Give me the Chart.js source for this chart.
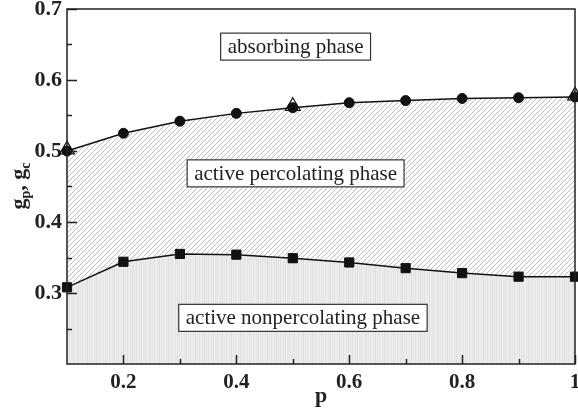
<!DOCTYPE html>
<html>
<head>
<meta charset="utf-8">
<script src="https://cdn.jsdelivr.net/npm/chart.js@4"></script>
<style>
  html, body { margin: 0; padding: 0; background: #fff; }
  canvas { display: block; }
</style>
</head>
<body>
<canvas id="phase" width="578" height="411"></canvas>
<script>
const pValues = [0.1, 0.2, 0.3, 0.4, 0.5, 0.6, 0.7, 0.8, 0.9, 1.0];
const gpValues = [0.500, 0.525, 0.542, 0.553, 0.561, 0.568, 0.571, 0.574, 0.575, 0.576];
const gnValues = [0.308, 0.344, 0.355, 0.354, 0.349, 0.343, 0.335, 0.328, 0.323, 0.323];
const gcP = [0.1, 0.5, 1.0];
const gcValues = [0.502, 0.563, 0.578];

const xTicks = [0.2, 0.4, 0.6, 0.8, 1.0];
const xMinor = [0.3, 0.5, 0.7, 0.9];
const yTicks = [0.3, 0.4, 0.5, 0.6, 0.7];
const yMinor = [0.25, 0.35, 0.45, 0.55, 0.65];

const phaseLabels = ['absorbing phase', 'active percolating phase', 'active nonpercolating phase'];
const labelP = [0.505, 0.505, 0.518];
const labelG = [0.647, 0.4685, 0.265];

const SERIF = '"Liberation Serif", "Times New Roman", serif';

function hatchPattern() {
    const c = document.createElement('canvas');
    c.width = 5; c.height = 5;
    const g = c.getContext('2d');
    g.fillStyle = '#ffffff';
    g.fillRect(0, 0, 5, 5);
    g.strokeStyle = '#bdbdbd';
    g.lineWidth = 1;
    g.beginPath();
    g.moveTo(0, 5); g.lineTo(5, 0);
    g.moveTo(-1, 1); g.lineTo(1, -1);
    g.moveTo(4, 6); g.lineTo(6, 4);
    g.stroke();
    return g.createPattern(c, 'repeat');
}

function stripePattern() {
    const c = document.createElement('canvas');
    c.width = 9; c.height = 4;
    const g = c.getContext('2d');
    g.fillStyle = '#ececec';
    g.fillRect(0, 0, 9, 4);
    const cols = [[1, '#e2e2e2'], [4, '#e5e5e5'], [6, '#dfdfdf'], [8, '#e7e7e7']];
    cols.forEach(([x, col]) => { g.fillStyle = col; g.fillRect(x, 0, 1, 4); });
    return g.createPattern(c, 'repeat');
}

function toPoints(xs, ys) {
    return xs.map((x, i) => ({ x: x, y: ys[i] }));
}

// inward tick marks, frame, phase label boxes and the y title with subscripts
const decorations = {
    id: 'decorations',
    afterDatasetsDraw(chart) {
        const ctx = chart.ctx;
        const xs = chart.scales.x, ys = chart.scales.y;
        ctx.save();
        ctx.font = '21px ' + SERIF;
        ctx.textAlign = 'center';
        ctx.textBaseline = 'middle';
        phaseLabels.forEach((txt, i) => {
            const cx = xs.getPixelForValue(labelP[i]);
            const cy = ys.getPixelForValue(labelG[i]);
            const w = ctx.measureText(txt).width + 14;
            const h = 27;
            ctx.fillStyle = '#ffffff';
            ctx.fillRect(cx - w / 2, cy - h / 2, w, h);
            ctx.strokeStyle = '#333';
            ctx.lineWidth = 1.2;
            ctx.strokeRect(cx - w / 2, cy - h / 2, w, h);
            ctx.fillStyle = '#222';
            ctx.fillText(txt, cx, cy + 1);
        });
        ctx.restore();
    },
    afterDraw(chart) {
        const ctx = chart.ctx;
        const a = chart.chartArea;
        const xs = chart.scales.x, ys = chart.scales.y;
        ctx.save();
        ctx.strokeStyle = '#222';
        ctx.lineWidth = 1.5;
        ctx.beginPath();
        xTicks.forEach(v => {
            const x = Math.round(xs.getPixelForValue(v)) + 0.5;
            ctx.moveTo(x, a.bottom); ctx.lineTo(x, a.bottom - 9);
        });
        xMinor.forEach(v => {
            const x = Math.round(xs.getPixelForValue(v)) + 0.5;
            ctx.moveTo(x, a.bottom); ctx.lineTo(x, a.bottom - 5);
        });
        yTicks.forEach(v => {
            const y = Math.round(ys.getPixelForValue(v)) + 0.5;
            ctx.moveTo(a.left, y); ctx.lineTo(a.left + 10, y);
        });
        yMinor.forEach(v => {
            const y = Math.round(ys.getPixelForValue(v)) + 0.5;
            ctx.moveTo(a.left, y); ctx.lineTo(a.left + 5, y);
        });
        ctx.stroke();
        ctx.strokeRect(a.left, a.top, a.right - a.left, a.bottom - a.top);

        // y axis title: g_p, g_c
        ctx.translate(20, 186);
        ctx.rotate(-Math.PI / 2);
        ctx.fillStyle = '#222';
        ctx.textBaseline = 'alphabetic';
        ctx.textAlign = 'left';
        const big = 'bold 22px ' + SERIF, small = 'bold 14px ' + SERIF;
        const parts = [['g', big, 0], ['p', small, 5], [', ', big, 0], ['g', big, 0], ['c', small, 5]];
        let total = 0;
        parts.forEach(([t, f]) => { ctx.font = f; total += ctx.measureText(t).width; });
        let x = -total / 2;
        parts.forEach(([t, f, dy]) => {
            ctx.font = f;
            ctx.fillText(t, x, 5 + dy);
            x += ctx.measureText(t).width;
        });
        ctx.restore();
    }
};

document.addEventListener('DOMContentLoaded', function() {
    const canvas = document.getElementById('phase');

    new Chart(canvas, {
        type: 'line',
        data: {
            datasets: [
                {
                    data: toPoints(gcP, gcValues),
                    showLine: false,
                    fill: false,
                    pointStyle: 'triangle',
                    pointRadius: 8.5,
                    pointBorderWidth: 1.2,
                    pointBorderColor: '#111',
                    pointBackgroundColor: 'rgba(0,0,0,0)',
                    clip: false,
                },
                {
                    data: toPoints(pValues, gpValues),
                    borderColor: '#111',
                    borderWidth: 1.5,
                    tension: 0,
                    fill: '+1',
                    backgroundColor: hatchPattern(),
                    pointStyle: 'circle',
                    pointRadius: 5,
                    pointBorderWidth: 1,
                    pointBorderColor: '#111',
                    pointBackgroundColor: '#111',
                    clip: false,
                },
                {
                    data: toPoints(pValues, gnValues),
                    borderColor: '#111',
                    borderWidth: 1.5,
                    tension: 0,
                    fill: 'start',
                    backgroundColor: stripePattern(),
                    pointStyle: 'rect',
                    pointRadius: 6.5,
                    pointBorderWidth: 1,
                    pointBorderColor: '#111',
                    pointBackgroundColor: '#111',
                    clip: false,
                },
            ],
        },
        options: {
            responsive: false,
            animation: false,
            devicePixelRatio: 1,
            layout: { autoPadding: false, padding: { top: 9, right: 3, left: 0, bottom: 0 } },
            plugins: {
                legend: { display: false },
                tooltip: { enabled: false },
                filler: { drawTime: 'beforeDatasetsDraw' },
            },
            scales: {
                x: {
                    type: 'linear',
                    min: 0.1,
                    max: 1.0,
                    afterFit(scale) {
                        scale.height = 47;
                        scale.paddingLeft = 0;
                        scale.paddingRight = 0;
                    },
                    afterBuildTicks(scale) { scale.ticks = xTicks.map(v => ({ value: v })); },
                    grid: { display: false, drawTicks: false },
                    border: { display: false },
                    ticks: {
                        padding: 6,
                        color: '#222',
                        font: { family: SERIF, size: 21, weight: 'bold' },
                        callback: v => (v === 1 ? '1' : v.toFixed(1)),
                    },
                    title: {
                        display: true,
                        text: 'p',
                        color: '#222',
                        padding: { top: 0, bottom: 1 },
                        font: { family: SERIF, size: 22, weight: 'bold' },
                    },
                },
                y: {
                    min: 0.2,
                    max: 0.7,
                    afterFit(scale) {
                        scale.width = 67;
                        scale.paddingTop = 0;
                        scale.paddingBottom = 0;
                    },
                    afterBuildTicks(scale) { scale.ticks = yTicks.map(v => ({ value: v })); },
                    grid: { display: false, drawTicks: false },
                    border: { display: false },
                    ticks: {
                        padding: 5,
                        color: '#222',
                        font: { family: SERIF, size: 22, weight: 'bold' },
                        callback: v => v.toFixed(1),
                    },
                },
            },
        },
        plugins: [decorations],
    });
});
</script>
</body>
</html>
